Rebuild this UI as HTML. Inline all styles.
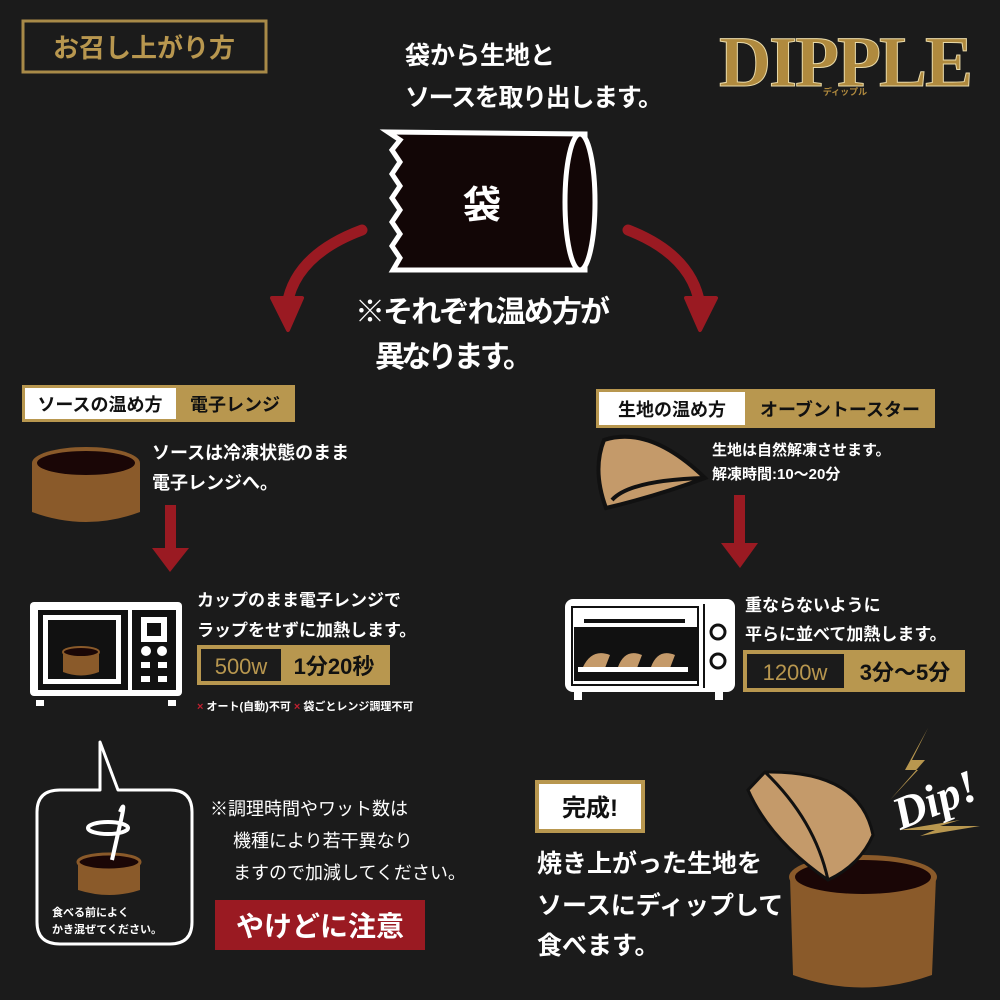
<!DOCTYPE html>
<html><head><meta charset="utf-8"><style>
html,body{margin:0;padding:0;background:#1b1b1b;}
svg{display:block}
text{font-family:"Liberation Sans","Noto Sans CJK JP",sans-serif;font-weight:bold}
</style></head><body>
<svg width="1000" height="1000" viewBox="0 0 1000 1000" xmlns="http://www.w3.org/2000/svg">
<rect width="1000" height="1000" fill="#1b1b1b"/>
<!-- title -->
<rect x="23" y="21" width="243" height="51" fill="none" stroke="#a88a48" stroke-width="3"/>
<text x="144" y="57" font-size="26" fill="#b8974f" text-anchor="middle">お召し上がり方</text>
<!-- logo -->
<text x="845" y="86" font-size="72" fill="#b08a3e" text-anchor="middle" stroke="#e8d9a8" stroke-width="1" style="font-family:'Liberation Serif',serif;letter-spacing:-2px">DIPPLE</text>
<text x="845" y="95" font-size="9" fill="#b08a3e" text-anchor="middle">ディップル</text>
<!-- top text -->
<text x="405" y="64" font-size="25" fill="#fff">袋から生地と</text>
<text x="405" y="106" font-size="25" fill="#fff" textLength="258">ソースを取り出します。</text>
<!-- bag -->
<path d="M388,132 L585,134 L585,270 L393,270 L400,258 L392,246 L400,234 L392,222 L400,210 L392,198 L400,186 L392,174 L400,162 L392,150 L400,140 Z" fill="#120606" stroke="#fff" stroke-width="5"/>
<ellipse cx="580" cy="202" rx="15" ry="68" fill="#120606" stroke="#fff" stroke-width="5"/>
<text x="482" y="218" font-size="38" fill="#fff" text-anchor="middle">袋</text>
<!-- curved arrows -->
<path d="M362,230 Q295,255 287,305" fill="none" stroke="#9a1a22" stroke-width="11" stroke-linecap="round"/>
<path d="M272,298 L288,330 L302,298 Z" fill="#9a1a22" stroke="#9a1a22" stroke-width="4" stroke-linejoin="round"/>
<path d="M628,230 Q692,255 700,305" fill="none" stroke="#9a1a22" stroke-width="11" stroke-linecap="round"/>
<path d="M686,298 L700,330 L716,298 Z" fill="#9a1a22" stroke="#9a1a22" stroke-width="4" stroke-linejoin="round"/>
<text x="355" y="322" font-size="30" fill="#fff" textLength="255">※それぞれ温め方が</text>
<text x="375" y="367" font-size="30" fill="#fff" textLength="158">異なります。</text>
<!-- left label -->
<rect x="22" y="385" width="273" height="37" fill="#b8974f"/>
<rect x="25" y="388" width="151" height="31" fill="#fff"/>
<text x="100" y="411" font-size="18" fill="#111" text-anchor="middle">ソースの温め方</text>
<text x="235" y="411" font-size="18" fill="#111" text-anchor="middle">電子レンジ</text>
<!-- right label -->
<rect x="596" y="389" width="339" height="39" fill="#b8974f"/>
<rect x="599" y="392" width="146" height="33" fill="#fff"/>
<text x="672" y="416" font-size="18" fill="#111" text-anchor="middle">生地の温め方</text>
<text x="840" y="416" font-size="18" fill="#111" text-anchor="middle">オーブントースター</text>
<!-- left cup -->
<path d="M32,463 L32,512 Q86,532 140,512 L140,463 Z" fill="#8a5a2a"/>
<ellipse cx="86" cy="463" rx="54" ry="16" fill="#8a5a2a"/>
<ellipse cx="86" cy="463" rx="49" ry="12" fill="#1a0606"/>
<text x="152" y="459" font-size="18" fill="#fff">ソースは冷凍状態のまま</text>
<text x="152" y="489" font-size="18" fill="#fff">電子レンジへ。</text>
<!-- left arrow down -->
<rect x="165" y="505" width="11" height="45" fill="#9a1a22"/>
<path d="M152,548 L189,548 L170,572 Z" fill="#9a1a22"/>
<!-- microwave -->
<rect x="30" y="602" width="152" height="94" rx="4" fill="#fff"/>
<rect x="36" y="700" width="8" height="6" fill="#fff"/><rect x="168" y="700" width="8" height="6" fill="#fff"/>
<rect x="38" y="610" width="90" height="80" fill="#111"/>
<rect x="43" y="615" width="78" height="69" fill="#fff"/>
<rect x="48" y="620" width="68" height="59" fill="#111"/>
<path d="M63,652 L63,672 Q81,679 99,672 L99,652 Z" fill="#8a5a2a"/>
<ellipse cx="81" cy="652" rx="18" ry="5" fill="#1a0606" stroke="#8a5a2a" stroke-width="2"/>
<rect x="132" y="610" width="44" height="80" fill="#111"/>
<rect x="141" y="617" width="26" height="25" fill="#fff"/><rect x="147" y="623" width="14" height="13" fill="#111"/>
<circle cx="146" cy="651" r="5" fill="#fff"/><circle cx="162" cy="651" r="5" fill="#fff"/>
<rect x="141" y="662" width="9" height="6" fill="#fff"/><rect x="158" y="662" width="9" height="6" fill="#fff"/>
<rect x="141" y="676" width="9" height="6" fill="#fff"/><rect x="158" y="676" width="9" height="6" fill="#fff"/>
<text x="197" y="606" font-size="17" fill="#fff">カップのまま電子レンジで</text>
<text x="197" y="636" font-size="17" fill="#fff">ラップをせずに加熱します。</text>
<rect x="197" y="645" width="193" height="40" fill="#b8974f"/>
<rect x="201" y="649" width="80" height="32" fill="#1b1b1b"/>
<text x="241" y="674" font-size="22" fill="#b8974f" text-anchor="middle" style="font-weight:normal">500w</text>
<text x="334" y="674" font-size="22" fill="#111" text-anchor="middle">1分20秒</text>
<text x="197" y="710" font-size="11" fill="#fff"><tspan fill="#c02030">×</tspan> オート(自動)不可 <tspan fill="#c02030">×</tspan> 袋ごとレンジ調理不可</text>
<!-- dough -->
<path d="M604,440 Q650,425 705,478 Q660,495 606,508 Q592,470 604,440 Z" fill="#c49a6a" stroke="#111" stroke-width="4"/>
<path d="M612,500 Q630,480 705,478" fill="none" stroke="#111" stroke-width="4"/>
<text x="712" y="455" font-size="15" fill="#fff">生地は自然解凍させます。</text>
<text x="712" y="479" font-size="15" fill="#fff">解凍時間:10〜20分</text>
<rect x="734" y="495" width="11" height="50" fill="#9a1a22"/>
<path d="M721,543 L758,543 L740,568 Z" fill="#9a1a22"/>
<!-- toaster -->
<rect x="565" y="599" width="170" height="93" rx="8" fill="#fff"/>
<rect x="574" y="690" width="8" height="10" fill="#fff"/><rect x="715" y="690" width="8" height="10" fill="#fff"/>
<rect x="572" y="607" width="126" height="78" fill="#fff" stroke="#111" stroke-width="2"/>
<rect x="584" y="619" width="101" height="4" fill="#111"/>
<rect x="574" y="627" width="123" height="54" fill="#111"/>
<rect x="703" y="604" width="2" height="84" fill="#111"/>
<circle cx="718" cy="632" r="7" fill="#fff" stroke="#111" stroke-width="3"/>
<circle cx="718" cy="661" r="7" fill="#fff" stroke="#111" stroke-width="3"/>
<path d="M583,667 Q592,648 610,655 L605,668 Z M618,667 Q625,648 642,655 L637,668 Z M651,667 Q658,648 675,655 L670,668 Z" fill="#c49a6a"/>
<rect x="578" y="667" width="110" height="5" fill="#fff"/>
<text x="745" y="611" font-size="17" fill="#fff">重ならないように</text>
<text x="745" y="640" font-size="17" fill="#fff">平らに並べて加熱します。</text>
<rect x="743" y="650" width="222" height="42" fill="#b8974f"/>
<rect x="747" y="654" width="97" height="34" fill="#1b1b1b"/>
<text x="795" y="680" font-size="22" fill="#b8974f" text-anchor="middle" style="font-weight:normal">1200w</text>
<text x="905" y="680" font-size="22" fill="#111" text-anchor="middle">3分〜5分</text>
<!-- speech bubble -->
<path d="M100,790 L60,790 Q37,790 37,812 L37,922 Q37,944 60,944 L170,944 Q192,944 192,922 L192,812 Q192,790 170,790 L118,790 L100,742 Z" fill="none" stroke="#fff" stroke-width="3" stroke-linejoin="round"/>
<ellipse cx="108" cy="828" rx="20" ry="6" fill="none" stroke="#fff" stroke-width="4"/>
<path d="M78,862 L78,890 Q110,900 140,890 L140,862 Z" fill="#8a5a2a"/>
<ellipse cx="109" cy="862" rx="31" ry="8" fill="#1a0606" stroke="#8a5a2a" stroke-width="3"/>
<path d="M120,812 Q126,798 121,820 L112,860" fill="none" stroke="#fff" stroke-width="4"/>
<text x="52" y="916" font-size="11" fill="#fff">食べる前によく</text>
<text x="52" y="933" font-size="11" fill="#fff">かき混ぜてください。</text>
<text x="210" y="815" font-size="18" fill="#fff" style="font-weight:normal">※調理時間やワット数は</text>
<text x="233" y="847" font-size="18" fill="#fff" style="font-weight:normal">機種により若干異なり</text>
<text x="233" y="879" font-size="18" fill="#fff" style="font-weight:normal">ますので加減してください。</text>
<rect x="215" y="900" width="210" height="50" fill="#9a1a22"/>
<text x="320" y="936" font-size="28" fill="#fff" text-anchor="middle">やけどに注意</text>
<!-- done -->
<rect x="535" y="780" width="110" height="53" fill="#b8974f"/>
<rect x="539" y="784" width="102" height="45" fill="#fff"/>
<text x="590" y="816" font-size="24" fill="#111" text-anchor="middle">完成!</text>
<text x="537" y="872" font-size="25" fill="#fff">焼き上がった生地を</text>
<text x="537" y="914" font-size="25" fill="#fff">ソースにディップして</text>
<text x="537" y="954" font-size="25" fill="#fff">食べます。</text>
<!-- big cup & dough -->
<path d="M790,877 L793,975 Q862,1000 932,975 L936,877 Z" fill="#8a5a2a"/>
<ellipse cx="863" cy="877" rx="74" ry="22" fill="#8a5a2a"/>
<ellipse cx="863" cy="877" rx="68" ry="17" fill="#1a0606"/>
<path d="M748,790 L765,772 Q860,770 873,835 Q860,865 828,880 Q770,840 748,790 Z" fill="#c49a6a" stroke="#111" stroke-width="3"/>
<path d="M765,772 Q815,820 828,880" fill="none" stroke="#111" stroke-width="3"/>
<path d="M928,728 L905,770 L918,770 L890,800 L925,760 L912,760 Z" fill="#b8974f"/>
<path d="M900,830 L960,820 L940,826 L980,826 L920,836 L935,830 Z" fill="#b8974f"/>
<text x="935" y="815" font-size="46" fill="#fff" text-anchor="middle" transform="rotate(-22 935 800)" style="font-family:'Liberation Serif',serif;font-style:italic">Dip!</text>
</svg>
</body></html>
